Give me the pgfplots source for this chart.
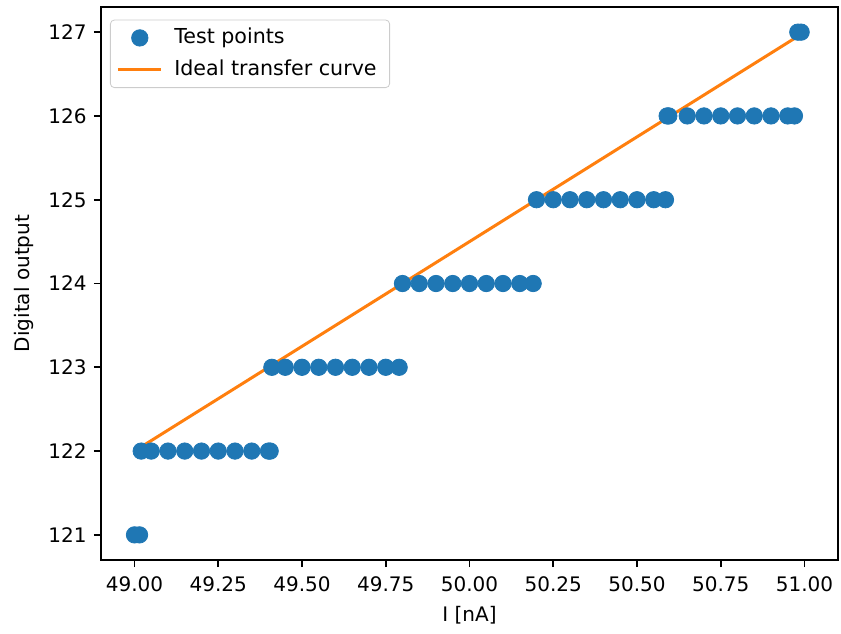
\documentclass[border=0pt]{standalone}
\usepackage{fontspec}
\setmainfont{DejaVu Sans}
\usepackage{pgfplots}
\pgfplotsset{compat=1.18}
\definecolor{C0}{HTML}{1F77B4}
\definecolor{C1}{HTML}{FF7F0E}
\pgfplotsset{
  legpts/.style={legend image code/.code={\path (0pt,0pt) (27pt,0pt); \draw[##1] plot coordinates {(12.5pt,0pt)};}},
  legline/.style={legend image code/.code={\draw[##1] (1.5pt,0pt) -- (23pt,0pt); \path (27pt,0pt);}},
}
\begin{document}
\begin{tikzpicture}
\useasboundingbox (-50.5pt,-36.5pt) rectangle (370pt,280pt);
\begin{axis}[
  scale only axis, width=368.5pt, height=276.5pt,
  at={(0,0)}, anchor=south west,
  xmin=48.9, xmax=51.1, ymin=120.7, ymax=127.3,
  xtick={49,49.25,49.5,49.75,50,50.25,50.5,50.75,51},
  ytick={121,122,123,124,125,126,127},
  xticklabel style={/pgf/number format/fixed, /pgf/number format/fixed zerofill, /pgf/number format/precision=2},
  /pgf/number format/assume math mode=true,
  tick align=outside, major tick length=3.5pt,
  tick style={black, line width=0.8pt},
  axis line style={line width=0.8pt},
  xtick pos=bottom, ytick pos=left,
  ticklabel style={font=\fontsize{10}{12}\selectfont},
  xticklabel style={anchor=base, inner sep=0pt, yshift=-12.3pt},
  yticklabel style={anchor=east, inner sep=0pt, xshift=-3.5pt},
  label style={font=\fontsize{10}{12}\selectfont},
  xlabel={I [nA]}, ylabel={Digital output},
  x label style={at={(axis description cs:0.5,0)}, anchor=base, inner sep=0pt, yshift=-30.8pt},
  y label style={at={([xshift=-38.5pt]axis description cs:0,0.5)}, anchor=center, inner sep=0pt},
  legend cell align=left,
  legend style={at={(axis description cs:0,1)}, anchor=north west, xshift=4.5pt, yshift=-6.3pt,
    draw=black!20, rounded corners=2pt, inner xsep=2pt, inner ysep=2pt,
    font=\fontsize{10.3}{12}\selectfont, row sep=2pt,
    nodes={text height=7.6pt, text depth=2.3pt, inner sep=2pt}},
]
\addplot[only marks, mark=*, mark size=4.1pt, color=C0, mark options={draw=C0, fill=C0}, legpts]
coordinates {
(49.00,121) (49.015,121)
(49.02,122) (49.05,122) (49.10,122) (49.15,122) (49.20,122) (49.25,122) (49.30,122) (49.35,122) (49.40,122) (49.405,122)
(49.41,123) (49.45,123) (49.50,123) (49.55,123) (49.60,123) (49.65,123) (49.70,123) (49.75,123) (49.79,123)
(49.80,124) (49.85,124) (49.90,124) (49.95,124) (50.00,124) (50.05,124) (50.10,124) (50.15,124) (50.19,124)
(50.20,125) (50.25,125) (50.30,125) (50.35,125) (50.40,125) (50.45,125) (50.50,125) (50.55,125) (50.585,125)
(50.59,126) (50.595,126) (50.65,126) (50.70,126) (50.75,126) (50.80,126) (50.85,126) (50.90,126) (50.95,126) (50.97,126)
(50.98,127) (50.99,127)
};
\addlegendentry{Test points}
\addplot[color=C1, line width=1.5pt, no marks, legline]
coordinates {(49,122) (51,127)};
\addlegendentry{Ideal transfer curve\kern2.5pt}
\end{axis}
\end{tikzpicture}
\end{document}
